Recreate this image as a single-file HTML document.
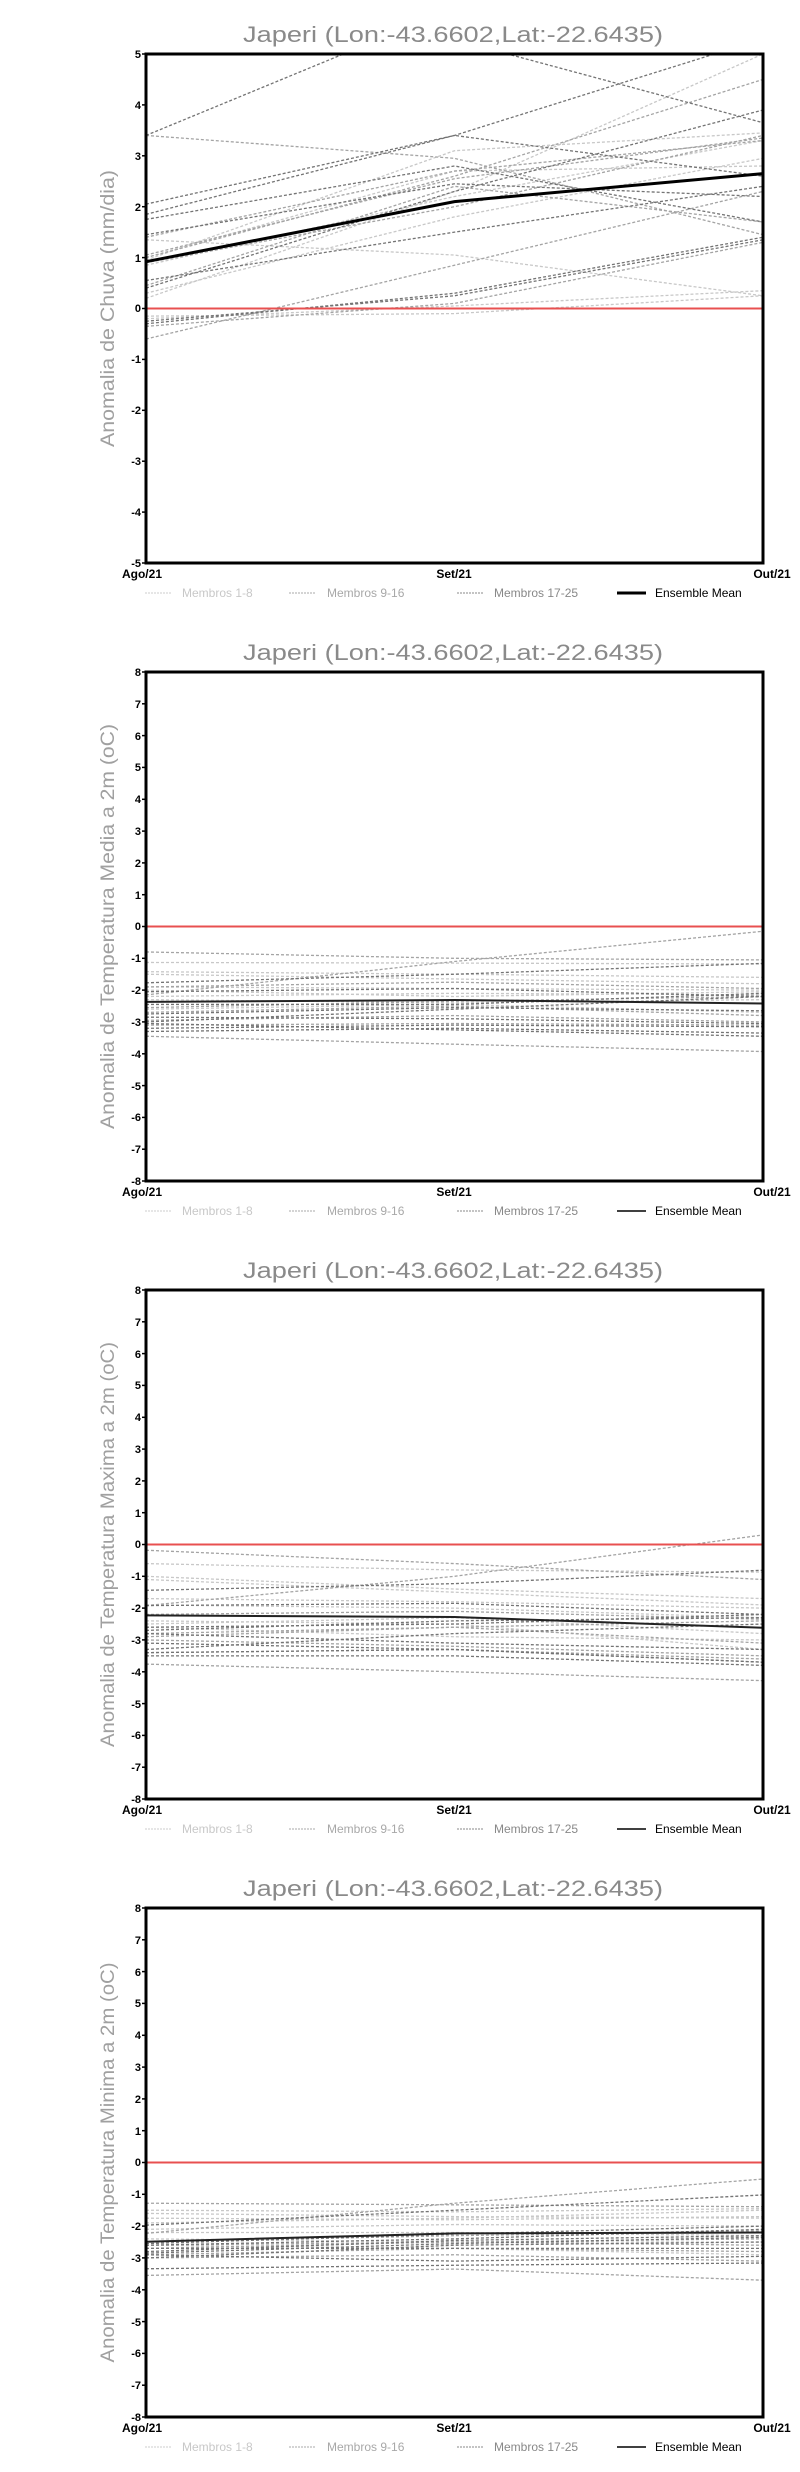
<!DOCTYPE html>
<html><head><meta charset="utf-8"><style>
html,body{margin:0;padding:0;background:#fff;}
svg{display:block;font-family:"Liberation Sans",sans-serif;}
.t{font-size:22px;fill:#8a8a8a;}
.yl{font-size:19px;fill:#a0a0a0;}
.tk{font-size:11px;font-weight:bold;fill:#000;text-anchor:end;}
.xl{font-size:12px;font-weight:bold;fill:#000;text-anchor:middle;}
.lg{font-size:12px;}
.L{stroke:#c8c8c8;}
.M{stroke:#a4a4a4;}
.D{stroke:#747474;}
.s polyline{fill:none;stroke-width:1.3;stroke-dasharray:3 2;vector-effect:non-scaling-stroke;}
</style></head><body>
<svg width="800" height="2472" viewBox="0 0 800 2472" xmlns="http://www.w3.org/2000/svg">
<rect width="800" height="2472" fill="#fff"/>

<!-- ============ CHART 1 ============ -->
<g>
<text class="t" x="243" y="42" textLength="420" lengthAdjust="spacingAndGlyphs">Japeri (Lon:-43.6602,Lat:-22.6435)</text>
<text class="yl" transform="translate(114,308.5) rotate(-90)" text-anchor="middle" textLength="277" lengthAdjust="spacingAndGlyphs">Anomalia de Chuva (mm/dia)</text>
<svg x="146" y="54" width="617" height="509" viewBox="0 -5 2 10" preserveAspectRatio="none">
<g transform="scale(1,-1)" class="s">
<polyline class="L" points="0,0.2 1,2.3 2,5.0"/>
<polyline class="L" points="0,-0.15 1,-0.1 2,0.25"/>
<polyline class="L" points="0,1.35 1,1.05 2,0.25"/>
<polyline class="L" points="0,0.95 1,3.1 2,3.45"/>
<polyline class="L" points="0,0.3 1,1.8 2,2.95"/>
<polyline class="L" points="0,-0.2 1,0.05 2,0.35"/>
<polyline class="L" points="0,1.0 1,2.7 2,2.8"/>
<polyline class="L" points="0,0.85 1,2.2 2,3.3"/>
<polyline class="M" points="0,1.0 1,2.6 2,4.5"/>
<polyline class="M" points="0,1.4 1,2.7 2,3.3"/>
<polyline class="M" points="0,-0.35 1,0.1 2,1.3"/>
<polyline class="M" points="0,0.45 1,2.4 2,1.7"/>
<polyline class="M" points="0,-0.6 1,0.85 2,2.3"/>
<polyline class="M" points="0,3.4 1,2.95 2,1.45"/>
<polyline class="M" points="0,0.9 1,2.0 2,3.4"/>
<polyline class="M" points="0,1.05 1,2.55 2,3.35"/>
<polyline class="D" points="0,3.4 1,5.9 2,7"/>
<polyline class="D" points="0,2.05 1,3.4 2,5.3"/>
<polyline class="D" points="0,1.85 1,3.4 2,2.6"/>
<polyline class="D" points="0,1.75 1,2.8 2,1.7"/>
<polyline class="D" points="0,1.45 1,2.45 2,2.2"/>
<polyline class="D" points="0,0.55 1,1.5 2,2.4"/>
<polyline class="D" points="0,-0.3 1,0.3 2,1.4"/>
<polyline class="D" points="0,0.4 1,2.3 2,3.9"/>
<polyline class="D" points="0.8,6 1.05,5.2 2,3.65"/>
<polyline class="D" points="0,-0.25 1,0.25 2,1.35"/>
</g>
</svg>
<line x1="146" y1="308.5" x2="763" y2="308.5" stroke="#e85050" stroke-width="2"/>
<polyline points="146,261.7 454.5,201.6 763,173.6" fill="none" stroke="#000" stroke-width="3"/>
<rect x="146" y="54" width="617" height="509" fill="none" stroke="#000" stroke-width="3"/>
<g stroke="#000" stroke-width="1.5">
<line x1="142" y1="54" x2="146" y2="54"/><line x1="142" y1="104.9" x2="146" y2="104.9"/><line x1="142" y1="155.8" x2="146" y2="155.8"/><line x1="142" y1="206.7" x2="146" y2="206.7"/><line x1="142" y1="257.6" x2="146" y2="257.6"/><line x1="142" y1="308.5" x2="146" y2="308.5"/><line x1="142" y1="359.4" x2="146" y2="359.4"/><line x1="142" y1="410.3" x2="146" y2="410.3"/><line x1="142" y1="461.2" x2="146" y2="461.2"/><line x1="142" y1="512.1" x2="146" y2="512.1"/><line x1="142" y1="563" x2="146" y2="563"/>
</g>
<text class="tk" x="141" y="58">5</text><text class="tk" x="141" y="109">4</text><text class="tk" x="141" y="160">3</text><text class="tk" x="141" y="211">2</text><text class="tk" x="141" y="262">1</text><text class="tk" x="141" y="312">0</text><text class="tk" x="141" y="363">-1</text><text class="tk" x="141" y="414">-2</text><text class="tk" x="141" y="465">-3</text><text class="tk" x="141" y="516">-4</text><text class="tk" x="141" y="567">-5</text>
<text class="xl" x="142" y="578">Ago/21</text><text class="xl" x="454" y="578">Set/21</text><text class="xl" x="772" y="578">Out/21</text>
<line x1="145" y1="593" x2="172" y2="593" stroke="#ccc" stroke-dasharray="2 1"/><text class="lg" x="182" y="597" fill="#c8c8c8">Membros 1-8</text>
<line x1="289" y1="593" x2="316" y2="593" stroke="#aaa" stroke-dasharray="2 1"/><text class="lg" x="327" y="597" fill="#a8a8a8">Membros 9-16</text>
<line x1="457" y1="593" x2="484" y2="593" stroke="#888" stroke-dasharray="2 1"/><text class="lg" x="494" y="597" fill="#888">Membros 17-25</text>
<line x1="617" y1="593" x2="646" y2="593" stroke="#000" stroke-width="3"/><text class="lg" x="655" y="597" fill="#000">Ensemble Mean</text>
</g>

<!-- ============ CHART 2 ============ -->
<g transform="translate(0,618)">
<text class="t" x="243" y="42" textLength="420" lengthAdjust="spacingAndGlyphs">Japeri (Lon:-43.6602,Lat:-22.6435)</text>
<text class="yl" transform="translate(114,308.5) rotate(-90)" text-anchor="middle" textLength="405" lengthAdjust="spacingAndGlyphs">Anomalia de Temperatura Media a 2m (oC)</text>
<svg x="146" y="54" width="617" height="509" viewBox="0 -8 2 16" preserveAspectRatio="none">
<g transform="scale(1,-1)" class="s">
<polyline class="L" points="0,-1.13 1,-1.15 2,-1.18"/>
<polyline class="L" points="0,-1.42 1,-1.5 2,-1.6"/>
<polyline class="L" points="0,-1.5 1,-1.65 2,-1.8"/>
<polyline class="L" points="0,-1.9 1,-1.95 2,-2.0"/>
<polyline class="L" points="0,-2.0 1,-2.2 2,-2.05"/>
<polyline class="L" points="0,-2.6 1,-2.45 2,-2.7"/>
<polyline class="L" points="0,-2.3 1,-2.4 2,-2.3"/>
<polyline class="L" points="0,-2.2 1,-2.1 2,-2.15"/>
<polyline class="M" points="0,-0.8 1,-1.0 2,-1.05"/>
<polyline class="M" points="0,-2.15 1,-1.1 2,-0.15"/>
<polyline class="M" points="0,-2.7 1,-2.5 2,-2.8"/>
<polyline class="M" points="0,-3.45 1,-3.7 2,-3.93"/>
<polyline class="M" points="0,-2.95 1,-2.8 2,-3.0"/>
<polyline class="M" points="0,-1.9 1,-1.75 2,-1.95"/>
<polyline class="M" points="0,-3.1 1,-3.05 2,-3.1"/>
<polyline class="M" points="0,-2.55 1,-2.35 2,-2.2"/>
<polyline class="D" points="0,-1.77 1,-1.5 2,-1.16"/>
<polyline class="D" points="0,-2.05 1,-1.95 2,-2.2"/>
<polyline class="D" points="0,-2.75 1,-2.55 2,-2.65"/>
<polyline class="D" points="0,-3.0 1,-2.6 2,-2.2"/>
<polyline class="D" points="0,-3.2 1,-3.1 2,-3.15"/>
<polyline class="D" points="0,-2.85 1,-2.9 2,-3.05"/>
<polyline class="D" points="0,-3.3 1,-3.2 2,-3.35"/>
<polyline class="D" points="0,-2.45 1,-2.45 2,-2.1"/>
<polyline class="D" points="0,-3.05 1,-3.25 2,-3.45"/>
</g>
</svg>
<line x1="146" y1="308.5" x2="763" y2="308.5" stroke="#e85050" stroke-width="2"/>
<polyline points="146,383.9 454.5,382 763,385.5" fill="none" stroke="#222" stroke-width="2"/>
<rect x="146" y="54" width="617" height="509" fill="none" stroke="#000" stroke-width="3"/>
<g id="yt16" stroke="#000" stroke-width="1.5">
<line x1="142" y1="54" x2="146" y2="54"/><line x1="142" y1="85.8" x2="146" y2="85.8"/><line x1="142" y1="117.6" x2="146" y2="117.6"/><line x1="142" y1="149.4" x2="146" y2="149.4"/><line x1="142" y1="181.3" x2="146" y2="181.3"/><line x1="142" y1="213.1" x2="146" y2="213.1"/><line x1="142" y1="244.9" x2="146" y2="244.9"/><line x1="142" y1="276.7" x2="146" y2="276.7"/><line x1="142" y1="308.5" x2="146" y2="308.5"/><line x1="142" y1="340.3" x2="146" y2="340.3"/><line x1="142" y1="372.1" x2="146" y2="372.1"/><line x1="142" y1="403.9" x2="146" y2="403.9"/><line x1="142" y1="435.8" x2="146" y2="435.8"/><line x1="142" y1="467.6" x2="146" y2="467.6"/><line x1="142" y1="499.4" x2="146" y2="499.4"/><line x1="142" y1="531.2" x2="146" y2="531.2"/><line x1="142" y1="563" x2="146" y2="563"/>
</g>
<g id="yl16">
<text class="tk" x="141" y="58">8</text><text class="tk" x="141" y="90">7</text><text class="tk" x="141" y="122">6</text><text class="tk" x="141" y="153">5</text><text class="tk" x="141" y="185">4</text><text class="tk" x="141" y="217">3</text><text class="tk" x="141" y="249">2</text><text class="tk" x="141" y="281">1</text><text class="tk" x="141" y="312">0</text><text class="tk" x="141" y="344">-1</text><text class="tk" x="141" y="376">-2</text><text class="tk" x="141" y="408">-3</text><text class="tk" x="141" y="440">-4</text><text class="tk" x="141" y="472">-5</text><text class="tk" x="141" y="503">-6</text><text class="tk" x="141" y="535">-7</text><text class="tk" x="141" y="567">-8</text>
</g>
<text class="xl" x="142" y="578">Ago/21</text><text class="xl" x="454" y="578">Set/21</text><text class="xl" x="772" y="578">Out/21</text>
<line x1="145" y1="593" x2="172" y2="593" stroke="#ccc" stroke-dasharray="2 1"/><text class="lg" x="182" y="597" fill="#c8c8c8">Membros 1-8</text>
<line x1="289" y1="593" x2="316" y2="593" stroke="#aaa" stroke-dasharray="2 1"/><text class="lg" x="327" y="597" fill="#a8a8a8">Membros 9-16</text>
<line x1="457" y1="593" x2="484" y2="593" stroke="#888" stroke-dasharray="2 1"/><text class="lg" x="494" y="597" fill="#888">Membros 17-25</text>
<line x1="617" y1="593" x2="646" y2="593" stroke="#000" stroke-width="1.5"/><text class="lg" x="655" y="597" fill="#000">Ensemble Mean</text>
</g>

<!-- ============ CHART 3 ============ -->
<g transform="translate(0,1236)">
<text class="t" x="243" y="42" textLength="420" lengthAdjust="spacingAndGlyphs">Japeri (Lon:-43.6602,Lat:-22.6435)</text>
<text class="yl" transform="translate(114,308.5) rotate(-90)" text-anchor="middle" textLength="405" lengthAdjust="spacingAndGlyphs">Anomalia de Temperatura Maxima a 2m (oC)</text>
<svg x="146" y="54" width="617" height="509" viewBox="0 -8 2 16" preserveAspectRatio="none">
<g transform="scale(1,-1)" class="s">
<polyline class="L" points="0,-0.6 1,-0.8 2,-0.87"/>
<polyline class="L" points="0,-1.0 1,-1.4 2,-1.7"/>
<polyline class="L" points="0,-1.1 1,-1.5 2,-1.9"/>
<polyline class="L" points="0,-1.7 1,-1.8 2,-2.0"/>
<polyline class="L" points="0,-2.4 1,-2.5 2,-3.3"/>
<polyline class="L" points="0,-2.5 1,-2.3 2,-2.8"/>
<polyline class="L" points="0,-1.9 1,-2.0 2,-2.3"/>
<polyline class="L" points="0,-2.6 1,-2.9 2,-3.0"/>
<polyline class="M" points="0,-0.18 1,-0.6 2,-1.1"/>
<polyline class="M" points="0,-1.92 1,-1.0 2,0.3"/>
<polyline class="M" points="0,-3.76 1,-4.0 2,-4.28"/>
<polyline class="M" points="0,-2.8 1,-2.6 2,-3.1"/>
<polyline class="M" points="0,-3.0 1,-3.2 2,-3.5"/>
<polyline class="M" points="0,-2.2 1,-2.1 2,-2.35"/>
<polyline class="M" points="0,-3.4 1,-3.3 2,-3.6"/>
<polyline class="M" points="0,-2.9 1,-2.6 2,-2.4"/>
<polyline class="D" points="0,-1.44 1,-1.23 2,-0.81"/>
<polyline class="D" points="0,-1.92 1,-1.85 2,-2.2"/>
<polyline class="D" points="0,-2.7 1,-2.4 2,-2.3"/>
<polyline class="D" points="0,-3.4 1,-3.3 2,-3.7"/>
<polyline class="D" points="0,-3.5 1,-3.5 2,-3.8"/>
<polyline class="D" points="0,-2.8 1,-3.1 2,-3.3"/>
<polyline class="D" points="0,-3.3 1,-2.8 2,-2.5"/>
<polyline class="D" points="0,-3.1 1,-3.3 2,-3.7"/>
<polyline class="D" points="0,-2.6 1,-2.5 2,-2.2"/>
</g>
</svg>
<line x1="146" y1="308.5" x2="763" y2="308.5" stroke="#e85050" stroke-width="2"/>
<polyline points="146,379.4 454.5,381 763,391.8" fill="none" stroke="#222" stroke-width="2"/>
<rect x="146" y="54" width="617" height="509" fill="none" stroke="#000" stroke-width="3"/>
<use href="#yt16"/><use href="#yl16"/>
<text class="xl" x="142" y="578">Ago/21</text><text class="xl" x="454" y="578">Set/21</text><text class="xl" x="772" y="578">Out/21</text>
<line x1="145" y1="593" x2="172" y2="593" stroke="#ccc" stroke-dasharray="2 1"/><text class="lg" x="182" y="597" fill="#c8c8c8">Membros 1-8</text>
<line x1="289" y1="593" x2="316" y2="593" stroke="#aaa" stroke-dasharray="2 1"/><text class="lg" x="327" y="597" fill="#a8a8a8">Membros 9-16</text>
<line x1="457" y1="593" x2="484" y2="593" stroke="#888" stroke-dasharray="2 1"/><text class="lg" x="494" y="597" fill="#888">Membros 17-25</text>
<line x1="617" y1="593" x2="646" y2="593" stroke="#000" stroke-width="1.5"/><text class="lg" x="655" y="597" fill="#000">Ensemble Mean</text>
</g>

<!-- ============ CHART 4 ============ -->
<g transform="translate(0,1854)">
<text class="t" x="243" y="42" textLength="420" lengthAdjust="spacingAndGlyphs">Japeri (Lon:-43.6602,Lat:-22.6435)</text>
<text class="yl" transform="translate(114,308.5) rotate(-90)" text-anchor="middle" textLength="400" lengthAdjust="spacingAndGlyphs">Anomalia de Temperatura Minima a 2m (oC)</text>
<svg x="146" y="54" width="617" height="509" viewBox="0 -8 2 16" preserveAspectRatio="none">
<g transform="scale(1,-1)" class="s">
<polyline class="L" points="0,-1.5 1,-1.55 2,-1.45"/>
<polyline class="L" points="0,-1.6 1,-1.7 2,-1.75"/>
<polyline class="L" points="0,-1.75 1,-1.8 2,-1.7"/>
<polyline class="L" points="0,-2.1 1,-1.95 2,-2.0"/>
<polyline class="L" points="0,-2.2 1,-2.2 2,-2.3"/>
<polyline class="L" points="0,-2.4 1,-2.5 2,-2.5"/>
<polyline class="L" points="0,-2.6 1,-2.7 2,-2.9"/>
<polyline class="L" points="0,-1.9 1,-1.75 2,-1.5"/>
<polyline class="M" points="0,-1.28 1,-1.33 2,-1.39"/>
<polyline class="M" points="0,-2.23 1,-1.28 2,-0.52"/>
<polyline class="M" points="0,-3.55 1,-3.35 2,-3.7"/>
<polyline class="M" points="0,-2.7 1,-2.5 2,-2.6"/>
<polyline class="M" points="0,-2.9 1,-2.7 2,-2.8"/>
<polyline class="M" points="0,-2.5 1,-2.3 2,-2.15"/>
<polyline class="M" points="0,-3.0 1,-2.9 2,-3.1"/>
<polyline class="M" points="0,-2.6 1,-2.5 2,-2.4"/>
<polyline class="D" points="0,-1.97 1,-1.5 2,-1.02"/>
<polyline class="D" points="0,-3.34 1,-3.23 2,-3.16"/>
<polyline class="D" points="0,-2.55 1,-2.25 2,-2.0"/>
<polyline class="D" points="0,-2.8 1,-2.45 2,-2.3"/>
<polyline class="D" points="0,-3.0 1,-2.6 2,-2.5"/>
<polyline class="D" points="0,-2.7 1,-2.7 2,-2.7"/>
<polyline class="D" points="0,-2.9 1,-3.1 2,-2.95"/>
<polyline class="D" points="0,-2.6 1,-2.4 2,-2.1"/>
<polyline class="D" points="0,-2.85 1,-2.55 2,-2.35"/>
</g>
</svg>
<line x1="146" y1="308.5" x2="763" y2="308.5" stroke="#e85050" stroke-width="2"/>
<polyline points="146,387.7 454.5,379.4 763,378.5" fill="none" stroke="#222" stroke-width="2"/>
<rect x="146" y="54" width="617" height="509" fill="none" stroke="#000" stroke-width="3"/>
<use href="#yt16"/><use href="#yl16"/>
<text class="xl" x="142" y="578">Ago/21</text><text class="xl" x="454" y="578">Set/21</text><text class="xl" x="772" y="578">Out/21</text>
<line x1="145" y1="593" x2="172" y2="593" stroke="#ccc" stroke-dasharray="2 1"/><text class="lg" x="182" y="597" fill="#c8c8c8">Membros 1-8</text>
<line x1="289" y1="593" x2="316" y2="593" stroke="#aaa" stroke-dasharray="2 1"/><text class="lg" x="327" y="597" fill="#a8a8a8">Membros 9-16</text>
<line x1="457" y1="593" x2="484" y2="593" stroke="#888" stroke-dasharray="2 1"/><text class="lg" x="494" y="597" fill="#888">Membros 17-25</text>
<line x1="617" y1="593" x2="646" y2="593" stroke="#000" stroke-width="1.5"/><text class="lg" x="655" y="597" fill="#000">Ensemble Mean</text>
</g>
</svg>
</body></html>
